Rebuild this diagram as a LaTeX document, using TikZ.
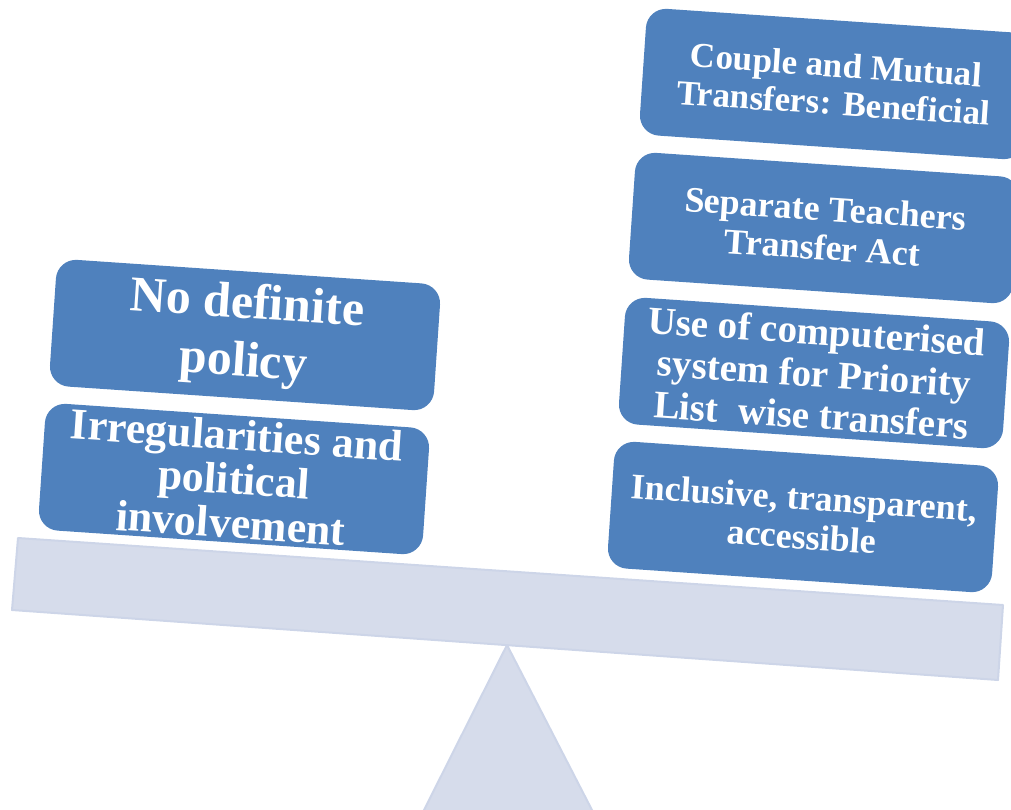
\documentclass[tikz,border=0pt]{standalone}
\usepackage{fontspec}
\setmainfont{Liberation Serif}
\definecolor{boxblue}{RGB}{79,129,189}
\definecolor{beamfill}{RGB}{214,220,235}
\definecolor{beamline}{RGB}{205,213,232}
\tikzset{
  card/.style={rectangle, rounded corners=20pt, fill=boxblue, text=white,
    minimum width=385pt, minimum height=127pt, rotate=-3.9, align=center,
    inner sep=0pt},
  beampart/.style={fill=beamfill, draw=beamline, line width=2pt, line join=round}
}
\begin{document}
\begin{tikzpicture}[x=1pt, y=-1pt]
\useasboundingbox (0,0) rectangle (1011,810);
% fulcrum
\draw[beampart] (507,645) -- (593,812) -- (423,812) -- cycle;
% beam
\draw[beampart] (18,538) -- (1003,605) -- (998,680) -- (12,610) -- cycle;
% left pan
\node[card, font=\bfseries\fontsize{50}{58}\selectfont] (nopolicy) at (245,335) {No definite\\policy};
\node[card, font=\bfseries\fontsize{44}{44}\selectfont] (irreg) at (234,479) {Irregularities and\\political\\involvement};
% right pan
\node[card, font=\bfseries\fontsize{35}{38}\selectfont] (couple) at (835,84) {Couple and Mutual\\Transfers: Beneficial};
\node[card, font=\bfseries\fontsize{36}{39}\selectfont] (separate) at (824,228) {Separate Teachers\\Transfer Act};
\node[card, font=\bfseries\fontsize{39}{42}\selectfont] (computer) at (814,373) {Use of computerised\\system for Priority\\List\ \ wise transfers};
\node[card, font=\bfseries\fontsize{36}{39}\selectfont] (inclusive) at (803,517) {Inclusive, transparent,\\accessible};
\end{tikzpicture}
\end{document}
